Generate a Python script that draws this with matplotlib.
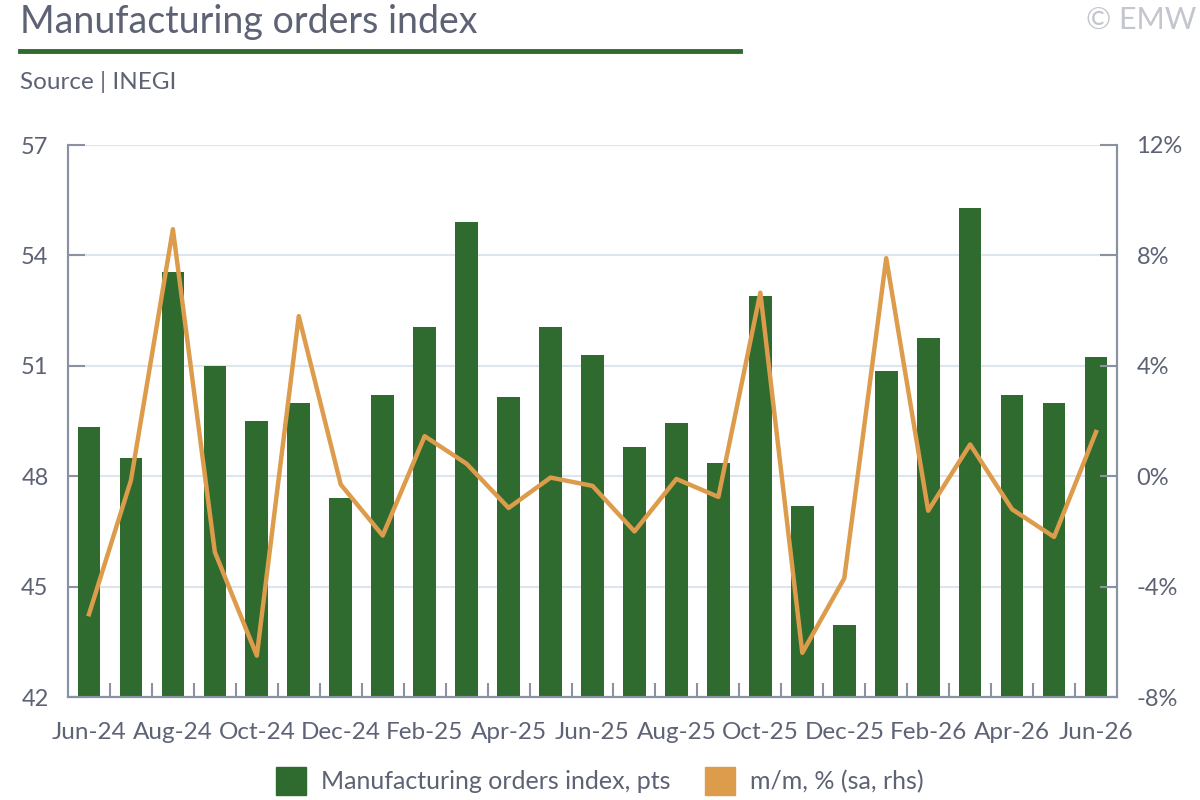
import numpy as np
import matplotlib.pyplot as plt
from matplotlib.patches import Patch

plt.rcParams['font.family'] = ['Lato', 'DejaVu Sans']

# Data
months = ["Jun-24", "Jul-24", "Aug-24", "Sep-24", "Oct-24", "Nov-24", "Dec-24",
          "Jan-25", "Feb-25", "Mar-25", "Apr-25", "May-25", "Jun-25", "Jul-25",
          "Aug-25", "Sep-25", "Oct-25", "Nov-25", "Dec-25", "Jan-26", "Feb-26",
          "Mar-26", "Apr-26", "May-26", "Jun-26"]
index_pts = [49.35, 48.5, 53.55, 51.0, 49.5, 50.0, 47.4, 50.2, 52.05, 54.9,
             50.15, 52.05, 51.3, 48.8, 49.45, 48.35, 52.9, 47.2, 43.95, 50.85,
             51.75, 55.3, 50.2, 50.0, 51.25]
mom_pct = [-5.0, -0.15, 8.95, -2.75, -6.5, 5.8, -0.3, -2.15, 1.45, 0.45,
           -1.15, -0.05, -0.35, -2.0, -0.1, -0.75, 6.65, -6.4, -3.7, 7.9,
           -1.25, 1.15, -1.2, -2.2, 1.6]

green = "#2f6b2f"
orange = "#dc9c4c"
grey = "#5d6275"
spine_c = "#8a91a3"
grid_c = "#dde5ee"

fig = plt.figure(figsize=(12, 8), dpi=100)
ax = fig.add_axes([68/1200, 1 - 697/800, (1117 - 68)/1200, (697 - 145)/800])
ax2 = ax.twinx()

x = np.arange(len(months))
ax.bar(x, index_pts, width=0.54, color=green, zorder=2)
ax2.plot(x, mom_pct, color=orange, lw=3.2, zorder=3)

ax.set_ylim(42, 57)
ax.set_yticks([42, 45, 48, 51, 54, 57])
ax2.set_ylim(-8, 12)
ax2.set_yticks([-8, -4, 0, 4, 8, 12])
ax2.set_yticklabels([f"{v}%" for v in [-8, -4, 0, 4, 8, 12]])
ax.set_xlim(-0.5, len(months) - 0.5)

ax.grid(axis="y", color=grid_c, lw=1.5, zorder=0)
ax.set_axisbelow(True)
ax.set_zorder(ax2.get_zorder() - 1)
ax.patch.set_visible(False)

ax.set_xticks(x[::2])
ax.set_xticklabels(months[::2])
ax.set_xticks(x[:-1] + 0.5, minor=True)
ax.tick_params(axis="x", which="major", length=0, pad=18, labelsize=17.5, labelcolor=grey)
ax.tick_params(axis="x", which="minor", direction="in", length=10, width=1.5, color=spine_c)
ax.tick_params(axis="y", direction="in", length=12, width=1.5, color=spine_c,
               labelsize=17, labelcolor=grey, pad=14)
ax2.tick_params(axis="y", direction="in", length=12, width=1.5, color=spine_c,
                labelsize=17, labelcolor=grey, pad=14)

for a in (ax, ax2):
    a.spines["top"].set_visible(False)
    for s in ("left", "right", "bottom"):
        a.spines[s].set_color(spine_c)
        a.spines[s].set_linewidth(1.5)

# titles
fig.text(20/1200, 1 - 22/800, "Manufacturing orders index", fontsize=27,
         color=grey, va="center", ha="left")
fig.add_artist(plt.Line2D([20/1200, 740/1200], [1 - 51/800, 1 - 51/800],
                          color=green, lw=3.5))
fig.text(20/1200, 1 - 82/800, "Source | INEGI", fontsize=17.5, color=grey,
         va="center", ha="left")
fig.text(1196/1200, 1 - 20/800, "© EMW", fontsize=22, color="#c3c6ce",
         va="center", ha="right")

handles = [Patch(color=green, label="Manufacturing orders index, pts"),
           Patch(color=orange, label="m/m, % (sa, rhs)")]
fig.legend(handles=handles, loc="center", bbox_to_anchor=(0.5, 1 - 781/800),
           ncol=2, frameon=False, fontsize=18, handlelength=1.2, handleheight=1.4,
           columnspacing=1.4, handletextpad=0.6, labelcolor=grey)

fig.savefig("out.png", dpi=100)
